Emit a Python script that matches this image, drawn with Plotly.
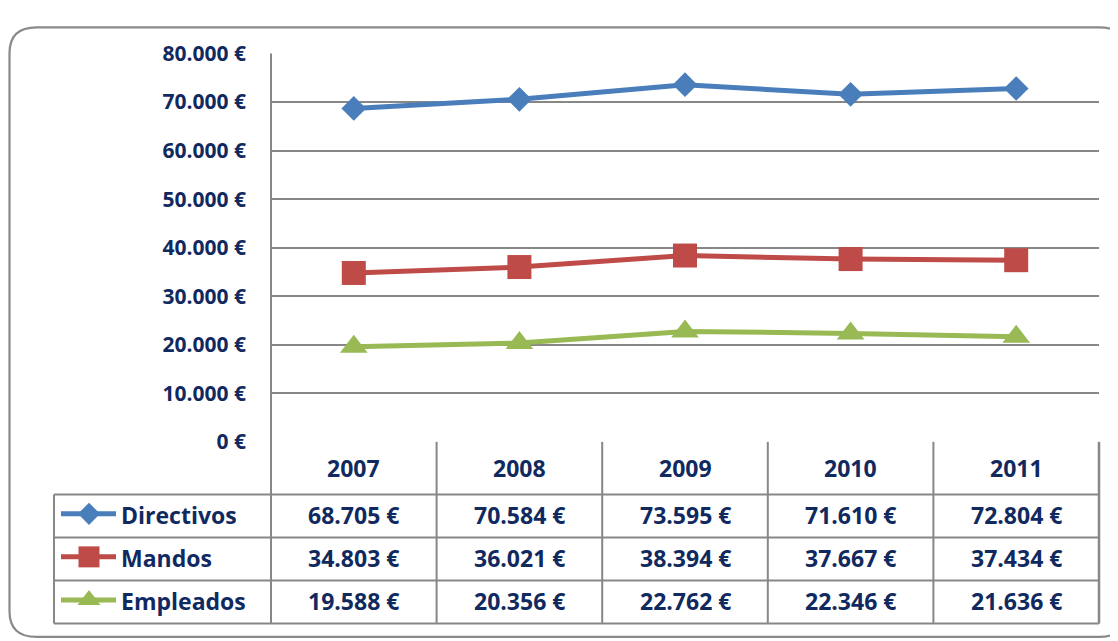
import plotly.graph_objects as go

# ---------------- data ----------------
years = ["2007", "2008", "2009", "2010", "2011"]
series_names = ["Directivos", "Mandos", "Empleados"]
directivos = [68705, 70584, 73595, 71610, 72804]
mandos = [34803, 36021, 38394, 37667, 37434]
empleados = [19588, 20356, 22762, 22346, 21636]
y_ticks = [0, 10000, 20000, 30000, 40000, 50000, 60000, 70000, 80000]

series_values = [directivos, mandos, empleados]
colors = ["#4a7ebb", "#be4b48", "#98b954"]
symbols = ["diamond", "square", "triangle-up"]
msizes = [19, 24, 24]
legend_msizes = [17, 21, 20]

TEXT = "#10295e"
GRID = "#878787"
FONT = "Open Sans"

W, H = 1118, 641
OFF = 8  # page body margin offset


def px(x):
    return (x - OFF) / W


def py(y):
    return 1 - (y - OFF) / H


def fmt(v):
    return f"{v:,}".replace(",", ".") + " €"


PL, PR, PT, PB = 271, 1099, 40, 446
ROWS = [446, 501, 546, 591, 636]
TL = 54

fig = go.Figure()

for name, vals, c, s, ms in zip(series_names, series_values, colors, symbols, msizes):
    fig.add_trace(go.Scatter(
        x=list(range(len(years))), y=vals, name=name,
        mode="lines+markers",
        line=dict(color=c, width=5),
        marker=dict(symbol=s, size=ms, color=c, line=dict(width=0)),
        cliponaxis=False, showlegend=False,
        xaxis="x", yaxis="y",
    ))

# legend symbols inside the table's first column (own small axes)
for i, (name, c, s, ms) in enumerate(zip(series_names, colors, symbols, legend_msizes)):
    fig.add_trace(go.Scatter(
        x=[7, 62], y=[i + 0.45, i + 0.45], mode="lines",
        line=dict(color=c, width=5), showlegend=False,
        xaxis="x2", yaxis="y2", hoverinfo="skip", cliponaxis=False,
    ))
    fig.add_trace(go.Scatter(
        x=[35], y=[i + 0.45], mode="markers",
        marker=dict(symbol=s, size=ms, color=c), showlegend=False,
        xaxis="x2", yaxis="y2", hoverinfo="skip", cliponaxis=False,
    ))

shapes = []
# outer rounded frame
L, T, R, B, r = 9.5, 12.5, 1126, 650, 27
path = (f"M {px(L)},{py(T + r)} Q {px(L)},{py(T)} {px(L + r)},{py(T)} "
        f"L {px(R - r)},{py(T)} Q {px(R)},{py(T)} {px(R)},{py(T + r)} "
        f"L {px(R)},{py(B - r)} Q {px(R)},{py(B)} {px(R - r)},{py(B)} "
        f"L {px(L + r)},{py(B)} Q {px(L)},{py(B)} {px(L)},{py(B - r)} Z")
shapes.append(dict(type="path", path=path, xref="paper", yref="paper",
                   line=dict(color="#8a8a8a", width=2.2), layer="below"))


def hline(x0, x1, y, w=2):
    shapes.append(dict(type="line", xref="paper", yref="paper",
                       x0=px(x0), x1=px(x1), y0=py(y), y1=py(y),
                       line=dict(color=GRID, width=w)))


def vline(x, y0, y1, w=2):
    shapes.append(dict(type="line", xref="paper", yref="paper",
                       x0=px(x), x1=px(x), y0=py(y0), y1=py(y1),
                       line=dict(color=GRID, width=w)))


# table grid
for y in ROWS[1:]:
    hline(TL, PR, y)
vline(PL, PT, ROWS[-1])
vline(TL, ROWS[1], ROWS[-1])
colw = (PR - PL) / len(years)
for k in range(1, len(years)):
    vline(PL + k * colw, ROWS[0], ROWS[-1])
vline(PR, ROWS[0], ROWS[-1], w=2.5)

annotations = []
font_tbl = dict(family=FONT, size=23, color=TEXT, weight="bold")
# header (years)
for i, yr in enumerate(years):
    annotations.append(dict(x=i, xref="x", y=py((ROWS[0] + ROWS[1]) / 2), yref="paper",
                            text=yr, showarrow=False, font=font_tbl,
                            xanchor="center", yanchor="middle"))

for r_i, (name, vals) in enumerate(zip(series_names, series_values)):
    yc = py((ROWS[r_i + 1] + ROWS[r_i + 2]) / 2 - 1)
    annotations.append(dict(x=px(119), xref="paper", y=yc, yref="paper",
                            text=name, showarrow=False, font=font_tbl,
                            xanchor="left", yanchor="middle"))
    for i, v in enumerate(vals):
        annotations.append(dict(x=i, xref="x", y=yc, yref="paper",
                                text=fmt(v), showarrow=False, font=font_tbl,
                                xanchor="center", yanchor="middle"))

fig.update_layout(
    width=W, height=H,
    margin=dict(l=0, r=0, t=0, b=0),
    paper_bgcolor="white", plot_bgcolor="rgba(0,0,0,0)",
    xaxis=dict(domain=[px(PL), px(PR)], range=[-0.5, len(years) - 0.5],
               showgrid=False, zeroline=False, showticklabels=False,
               showline=False, fixedrange=True),
    yaxis=dict(domain=[py(PB), py(PT)], range=[0, 80000],
               tickmode="array", tickvals=y_ticks, ticktext=[fmt(v) for v in y_ticks],
               showgrid=True, gridcolor=GRID, gridwidth=2,
               zeroline=False, showline=False, ticks="",
               ticklabelstandoff=24,
               tickfont=dict(family=FONT, size=21, color=TEXT, weight="bold")),
    xaxis2=dict(domain=[px(TL), px(PL)], range=[0, PL - TL], visible=False,
                anchor="y2", fixedrange=True),
    yaxis2=dict(domain=[py(ROWS[-1]), py(ROWS[1])], range=[3, 0], visible=False,
                anchor="x2", fixedrange=True),
    shapes=shapes,
    annotations=annotations,
)

fig.write_html("out.html")
